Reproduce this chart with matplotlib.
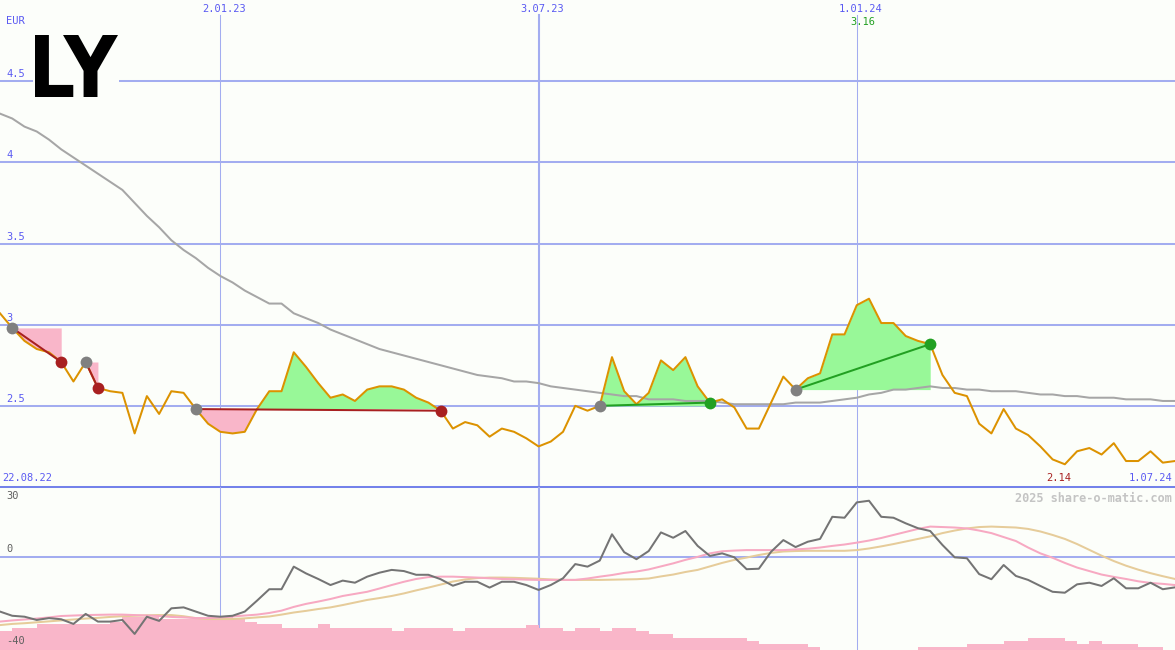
import numpy as np
import matplotlib
matplotlib.use('Agg')
import matplotlib.pyplot as plt
from matplotlib.textpath import TextPath
from matplotlib.patches import PathPatch, Rectangle
from matplotlib.font_manager import FontProperties
from matplotlib.transforms import Affine2D

# ---------------- data (weekly, week 0 = first point) ----------------
price = [3.07, 2.98, 2.90, 2.85, 2.83, 2.77, 2.65, 2.77, 2.61, 2.59,
         2.58, 2.33, 2.56, 2.45, 2.59, 2.58, 2.48, 2.39, 2.34, 2.33,
         2.34, 2.48, 2.59, 2.59, 2.83, 2.74, 2.64, 2.55, 2.57, 2.53,
         2.60, 2.62, 2.62, 2.60, 2.55, 2.52, 2.47, 2.36, 2.40, 2.38,
         2.31, 2.36, 2.34, 2.30, 2.25, 2.28, 2.34, 2.50, 2.47, 2.50,
         2.80, 2.59, 2.51, 2.58, 2.78, 2.72, 2.80, 2.62, 2.52, 2.54,
         2.49, 2.36, 2.36, 2.52, 2.68, 2.60, 2.67, 2.70, 2.94, 2.94,
         3.12, 3.16, 3.01, 3.01, 2.93, 2.90, 2.88, 2.69, 2.58, 2.56,
         2.39, 2.33, 2.48, 2.36, 2.32, 2.25, 2.17, 2.14, 2.22, 2.24,
         2.20, 2.27, 2.16, 2.16, 2.22, 2.15, 2.16]

ma_long = [4.30, 4.27, 4.22, 4.19, 4.14, 4.08, 4.03, 3.98, 3.93, 3.88,
           3.83, 3.75, 3.67, 3.60, 3.52, 3.46, 3.41, 3.35, 3.30, 3.26,
           3.21, 3.17, 3.13, 3.13, 3.07, 3.04, 3.01, 2.97, 2.94, 2.91,
           2.88, 2.85, 2.83, 2.81, 2.79, 2.77, 2.75, 2.73, 2.71, 2.69,
           2.68, 2.67, 2.65, 2.65, 2.64, 2.62, 2.61, 2.60, 2.59, 2.58,
           2.57, 2.56, 2.56, 2.54, 2.54, 2.54, 2.53, 2.53, 2.53, 2.52,
           2.51, 2.51, 2.51, 2.51, 2.51, 2.52, 2.52, 2.52, 2.53, 2.54,
           2.55, 2.57, 2.58, 2.60, 2.60, 2.61, 2.62, 2.61, 2.61, 2.60,
           2.60, 2.59, 2.59, 2.59, 2.58, 2.57, 2.57, 2.56, 2.56, 2.55,
           2.55, 2.55, 2.54, 2.54, 2.54, 2.53, 2.53]

osc = [-23.5, -25.3, -25.7, -27.1, -26.3, -26.8, -28.8, -24.5, -27.8, -27.8,
       -27.1, -33.1, -25.7, -27.5, -22.1, -21.7, -23.5, -25.3, -25.7, -25.3,
       -23.5, -18.8, -13.9, -13.9, -4.2, -7.1, -9.5, -12.1, -10.2, -11.1,
       -8.5, -6.8, -5.6, -6.1, -7.7, -7.7, -9.6, -12.4, -10.7, -10.7,
       -13.2, -10.7, -10.7, -12.1, -14.2, -12.1, -9.2, -3.1, -4.2, -1.6,
       9.7, 2.0, -1.0, 2.5, 10.5, 8.2, 11.1, 4.7, 0.4, 1.5,
       -0.2, -5.3, -5.1, 2.2, 7.2, 4.2, 6.5, 7.7, 17.2, 16.8,
       23.4, 24.1, 17.2, 16.8, 14.4, 12.3, 11.1, 5.1, -0.2, -0.6,
       -7.4, -9.6, -3.5, -8.2, -9.9, -12.5, -15.0, -15.4, -11.8, -11.1,
       -12.5, -9.2, -13.5, -13.5, -11.1, -13.9, -13.1]

osc_fast = [-27.8, -27.3, -26.9, -26.5, -26.0, -25.4, -25.2, -25.0, -24.9, -24.8,
            -24.8, -25.0, -25.2, -25.4, -25.8, -26.0, -26.3, -26.3, -26.0, -25.6,
            -25.2, -24.8, -24.1, -23.1, -21.5, -20.2, -19.2, -18.1, -16.8, -15.9,
            -15.0, -13.6, -12.1, -10.7, -9.5, -8.7, -8.5, -8.5, -8.7, -8.9,
            -9.2, -9.5, -9.6, -9.8, -9.9, -9.9, -9.9, -9.9, -9.3, -8.5,
            -7.8, -6.9, -6.3, -5.4, -4.1, -2.8, -1.3, 0.0, 1.5, 2.4,
            2.7, 2.9, 2.9, 2.9, 2.9, 3.2, 3.5, 4.0, 4.7, 5.3,
            6.1, 7.0, 8.1, 9.4, 10.7, 12.0, 13.0, 12.8, 12.6, 12.2,
            11.3, 10.2, 8.5, 6.8, 4.0, 1.5, -0.4, -2.6, -4.6, -6.1,
            -7.6, -8.6, -9.5, -10.5, -11.2, -11.6, -12.1]

osc_slow = [-29.3, -28.8, -28.5, -28.1, -27.7, -27.3, -26.9, -26.5, -26.2, -25.8,
            -25.5, -25.3, -25.1, -25.0, -25.0, -25.5, -26.3, -26.7, -26.7, -26.7,
            -26.4, -26.0, -25.6, -24.8, -23.9, -23.2, -22.4, -21.7, -20.7, -19.6,
            -18.5, -17.7, -16.8, -15.7, -14.4, -13.2, -11.9, -10.6, -9.7, -9.1,
            -8.9, -8.9, -9.0, -9.2, -9.4, -9.7, -9.9, -9.9, -9.9, -9.9,
            -9.8, -9.7, -9.6, -9.3, -8.4, -7.6, -6.5, -5.6, -4.1, -2.6,
            -1.3, -0.3, 0.8, 1.7, 2.3, 2.5, 2.6, 2.6, 2.6, 2.6,
            2.9, 3.6, 4.5, 5.5, 6.6, 7.7, 8.8, 10.2, 11.3, 12.2,
            12.8, 13.0, 12.8, 12.6, 12.0, 10.9, 9.4, 7.7, 5.5, 3.0,
            0.5, -1.8, -3.8, -5.5, -7.0, -8.3, -9.5]

vol = [-31.7, -30.4, -30.4, -29.0, -29.0, -29.0, -29.0, -29.0, -29.0, -27.8,
       -25.7, -25.7, -25.7, -26.7, -26.7, -26.7, -26.7, -25.7, -25.7, -26.7,
       -27.8, -29.0, -29.0, -30.4, -30.4, -30.4, -29.0, -30.4, -30.4, -30.4,
       -30.4, -30.4, -31.8, -30.4, -30.4, -30.4, -30.4, -31.8, -30.4, -30.4,
       -30.4, -30.4, -30.4, -29.3, -30.4, -30.4, -31.8, -30.4, -30.4, -31.8,
       -30.4, -30.4, -31.8, -33.2, -33.2, -34.7, -34.7, -34.7, -34.7, -34.7,
       -34.7, -36.1, -37.4, -37.4, -37.4, -37.4, -38.7, -40, -40, -40,
       -40, -40, -40, -40, -40, -38.7, -38.7, -38.7, -38.7, -37.4,
       -37.4, -37.4, -36.1, -36.1, -34.7, -34.7, -34.7, -36.1, -37.4, -36.1,
       -37.4, -37.4, -37.4, -38.7, -38.7, -40]

# trades: (buy week, sell week)
trades = [(1, 5), (7, 8), (16, 36), (49, 58), (65, 76)]

date_ticks = [18, 44, 70]
date_labels = ['2.01.23', '3.07.23', '1.01.24']
date_widths = [0.75, 1.5, 0.75]
start_label = '22.08.22'
end_label = '1.07.24'
price_levels = [2.5, 3.0, 3.5, 4.0, 4.5]
price_level_labels = ['2.5', '3', '3.5', '4', '4.5']
osc_levels = [30, 0, -40]

# ---------------- styling ----------------
BG = '#fcfefa'
GRID = '#a3adf0'
SEP = '#7482ea'
BLUE_TXT = '#5a5af2'
ORANGE = '#dc9200'
GREYMA = '#a6a6a6'
PINK_FILL = '#f9b6c9'
GREEN_FILL = '#98f898'
RED = '#a82020'
GREEN = '#22a022'
MONO = 'DejaVu Sans Mono'
FS = 7.5
LW = 1.45

W, H = 1175, 650
fig = plt.figure(figsize=(W / 100, H / 100), dpi=100, facecolor=BG)
split = 163 / H
ax1 = fig.add_axes([0, split, 1, 1 - split])
ax2 = fig.add_axes([0, 0, 1, split])
weeks = np.arange(len(price))
p = np.array(price)

for ax in (ax1, ax2):
    ax.set_xlim(0, len(price) - 1)
    ax.axis('off')
ax1.set_ylim(2.0, 5.0)
ax2.set_ylim(-40, 30)

# ---------------- top panel ----------------
for lv in price_levels:
    ax1.axhline(lv, color=GRID, lw=LW, zorder=0.5)
ax1.axhline(2.0, color=SEP, lw=LW, zorder=5, clip_on=False)
top_frac = 1 - 15 / 487
for t, w in zip(date_ticks, date_widths):
    ax1.axvline(t, ymin=0, ymax=top_frac, color=GRID, lw=w, zorder=0.5)
    ax2.axvline(t, color=GRID, lw=w, zorder=0.5)

for b, s in trades:
    xs = weeks[b:s + 1]
    ps = p[b:s + 1]
    base = p[b]
    ax1.fill_between(xs, base, ps, where=ps >= base, interpolate=True,
                     color=GREEN_FILL, lw=0, zorder=1)
    ax1.fill_between(xs, base, ps, where=ps <= base, interpolate=True,
                     color=PINK_FILL, lw=0, zorder=1)

ax1.plot(weeks, ma_long, color=GREYMA, lw=LW, zorder=2)
ax1.plot(weeks, price, color=ORANGE, lw=LW, zorder=3)

for b, s in trades:
    win = p[s] > p[b]
    c = GREEN if win else RED
    ax1.plot([b, s], [p[b], p[s]], color=c, lw=LW, zorder=4)
    ax1.plot([b], [p[b]], 'o', color='#808080', ms=8.5, mec='none', zorder=4)
    ax1.plot([s], [p[s]], 'o', color=c, ms=8.5, mec='none', zorder=4)

txt = dict(family=MONO, fontsize=FS)
for lv, lab in zip(price_levels, price_level_labels):
    ax1.annotate(lab, xy=(0, lv), xycoords=('axes fraction', 'data'),
                 xytext=(6, 2), textcoords='offset pixels', ha='left',
                 va='bottom', color=BLUE_TXT, **txt)
ax1.annotate('EUR', xy=(0, 1), xycoords='axes fraction', xytext=(6, -16),
             textcoords='offset pixels', ha='left', va='top', color=BLUE_TXT, **txt)
for t, lab in zip(date_ticks, date_labels):
    ax1.annotate(lab, xy=(t, 1), xycoords=('data', 'axes fraction'),
                 xytext=(4, -4), textcoords='offset pixels', ha='center',
                 va='top', color=BLUE_TXT, **txt)
ax1.annotate(start_label, xy=(0, 0), xycoords='axes fraction', xytext=(2, 4),
             textcoords='offset pixels', ha='left', va='bottom', color=BLUE_TXT, **txt)
ax1.annotate(end_label, xy=(1, 0), xycoords='axes fraction', xytext=(-3, 4),
             textcoords='offset pixels', ha='right', va='bottom', color=BLUE_TXT, **txt)
imax = int(np.argmax(p))
imin = int(np.argmin(p))
ax1.annotate(f'{p[imax]:.2f}', xy=(imax, 1), xycoords=('data', 'axes fraction'),
             xytext=(-6, -17), textcoords='offset pixels', ha='center', va='top',
             color=GREEN, **txt)
ax1.annotate(f'{p[imin]:.2f}', xy=(imin, 0), xycoords=('data', 'axes fraction'),
             xytext=(-6, 4), textcoords='offset pixels', ha='center', va='bottom',
             color=RED, **txt)

# ---------------- bottom panel ----------------
ax2.axhline(0, color=GRID, lw=LW, zorder=0.5)
vb = np.array(vol)
ax2.bar(weeks[:-1], vb + 40, bottom=-40, width=1, align='edge',
        color=PINK_FILL, lw=0, zorder=1)
ax2.plot(weeks, osc_slow, color='#e6cc9a', lw=LW, zorder=2)
ax2.plot(weeks, osc_fast, color='#f7a9c2', lw=LW, zorder=2.5)
ax2.plot(weeks, osc, color='#747474', lw=LW, zorder=3)

ax2.annotate(str(osc_levels[0]), xy=(0, 1), xycoords='axes fraction', xytext=(6, -4),
             textcoords='offset pixels', ha='left', va='top', color='#606060', **txt)
ax2.annotate(str(osc_levels[1]), xy=(0, osc_levels[1]), xycoords=('axes fraction', 'data'),
             xytext=(6, 3), textcoords='offset pixels', ha='left', va='bottom',
             color='#606060', **txt)
ax2.annotate(str(osc_levels[2]), xy=(0, 0), xycoords='axes fraction', xytext=(6, 4),
             textcoords='offset pixels', ha='left', va='bottom', color='#606060', **txt)
ax2.annotate('2025 share-o-matic.com', xy=(1, 1), xycoords='axes fraction',
             xytext=(-3, -5), textcoords='offset pixels', ha='right', va='top',
             color='#c4c4c4', family=MONO, fontsize=8.6, fontweight='bold')

# ---------------- logo ----------------
fig.add_artist(Rectangle((33, H - 100), 86, 70, transform=None,
                         facecolor=BG, edgecolor='none', zorder=6))
fp = FontProperties(family='DejaVu Sans', weight='bold')
tp = TextPath((0, 0), 'LY', size=100, prop=fp)
ext = tp.get_extents()
tr = (Affine2D().translate(-ext.x0, -ext.y0)
      .scale(83 / ext.width, 62 / ext.height)
      .translate(35, H - 97))
fig.add_artist(PathPatch(tp, transform=tr, facecolor='black', edgecolor='none', zorder=7))

fig.savefig('out.png', dpi=100, facecolor=BG)
